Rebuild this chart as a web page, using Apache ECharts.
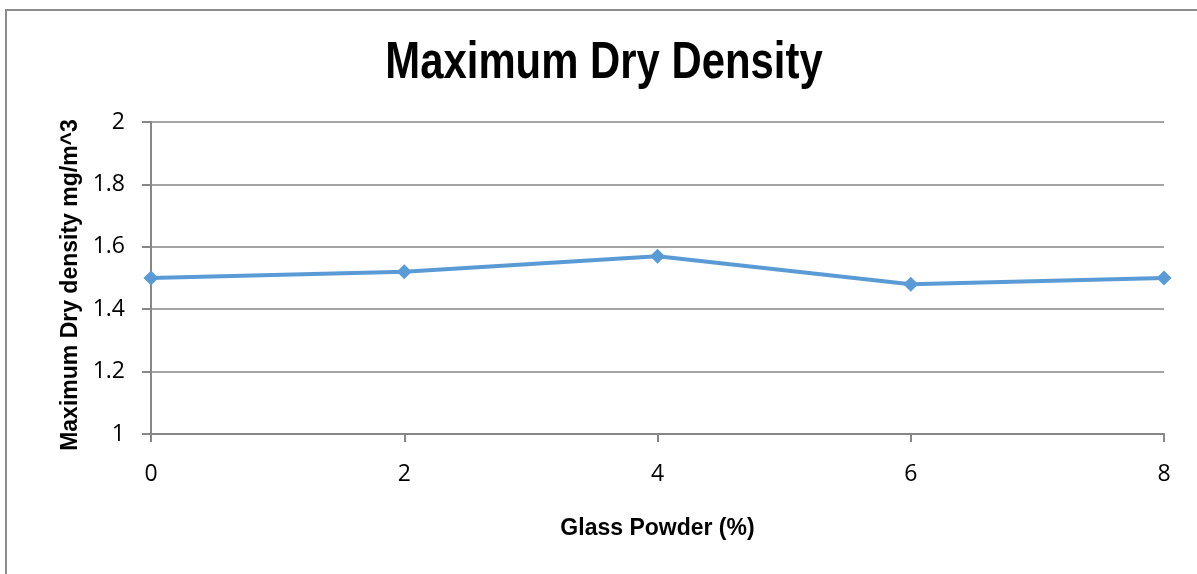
<!DOCTYPE html>
<html>
<head>
<meta charset="utf-8">
<script src="https://cdn.jsdelivr.net/npm/echarts@6/dist/echarts.min.js"></script>
<style>
  html, body { margin: 0; padding: 0; background: #fff; }
  #chart { width: 1197px; height: 574px; }
</style>
</head>
<body>
<div id="chart"></div>
<script>
  // glass powder content (%) and max dry density
  var glassPowder = [0, 2, 4, 6, 8];
  var dryDensity = [1.5, 1.52, 1.57, 1.48, 1.5];

  var chart = echarts.init(document.getElementById('chart'));
  var boldFont = '"Liberation Sans", Arial, sans-serif';
  var axisGray = '#878787';

  chart.setOption({
    animation: false,
    graphic: [{
      type: 'rect',
      shape: { x: 6, y: 10, width: 1300, height: 700 },
      style: { fill: 'none', stroke: '#8c8c8c', lineWidth: 2 },
      silent: true
    }, {
      // title, squeezed sideways to look like a narrow bold face
      type: 'text',
      x: 604,
      y: 38,
      scaleX: 0.805,
      style: {
        text: 'Maximum Dry Density',
        font: 'bold 52px ' + boldFont,
        fill: '#000',
        textAlign: 'center',
        textVerticalAlign: 'top'
      },
      silent: true
    }],
    grid: { left: 151, right: 33, top: 122, bottom: 140 },
    xAxis: {
      type: 'value',
      min: 0,
      max: 8,
      interval: 2,
      name: 'Glass Powder (%)',
      nameLocation: 'middle',
      nameGap: 83,
      nameTextStyle: { fontFamily: boldFont, fontWeight: 'bold', fontSize: 23, color: '#000' },
      axisLine: { lineStyle: { color: axisGray, width: 2 } },
      axisTick: { show: true, length: 8, lineStyle: { color: axisGray, width: 2 } },
      axisLabel: { fontFamily: '"Open Sans", sans-serif', fontSize: 23, color: '#000', margin: 29 },
      splitLine: { show: false }
    },
    yAxis: {
      type: 'value',
      min: 1,
      max: 2,
      interval: 0.2,
      name: 'Maximum Dry density mg/m^3',
      nameLocation: 'middle',
      nameGap: 69,
      nameTextStyle: { fontFamily: boldFont, fontWeight: 'bold', fontSize: 23, color: '#000', padding: [0, 14, 0, 0] },
      axisLine: { show: true, lineStyle: { color: axisGray, width: 2 } },
      axisTick: { show: true, length: 9, lineStyle: { color: axisGray, width: 2 } },
      axisLabel: {
        fontFamily: '"Open Sans", sans-serif', fontSize: 23, color: '#000', margin: 26,
        formatter: function (v) { return String(Math.round(v * 10) / 10); }
      },
      splitLine: { show: true, lineStyle: { color: axisGray, width: 1.5 } }
    },
    series: [{
      type: 'line',
      data: glassPowder.map(function (x, i) { return [x, dryDensity[i]]; }),
      symbol: 'diamond',
      symbolSize: 15,
      lineStyle: { color: '#5b9bd5', width: 4 },
      itemStyle: { color: '#5b9bd5' }
    }]
  });
</script>
</body>
</html>
